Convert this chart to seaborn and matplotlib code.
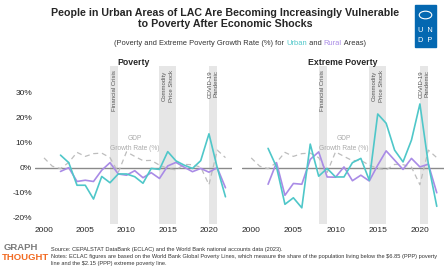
import numpy as np
import pandas as pd
import seaborn as sns
import matplotlib.pyplot as plt
from matplotlib.patches import Rectangle, Circle
import matplotlib.transforms as mtransforms

# data
years = list(range(2000, 2023))
gdp = [3.9, 0.6, -0.4, 2.1, 6.1, 4.5, 5.6, 5.8, 4.0, -1.9, 6.3, 4.5, 2.8, 2.9, 1.0,
       -0.3, -0.9, 1.3, 1.2, 0.2, -6.8, 7.0, 4.0]

pov_years = list(range(2002, 2023))
urban_pov = [5.0, 2.0, -7.0, -7.0, -12.5, -3.5, -6.0, -2.5, -2.5, -3.6, -6.2, -0.3, -0.7,
             6.4, 2.7, 1.0, -0.3, 2.8, 13.5, 0.0, -11.6]
rural_pov = [-1.5, 0.0, -5.5, -5.0, -5.5, -1.0, 2.0, -2.5, -3.0, -1.2, -4.0, -2.0, -4.3,
             0.7, 2.1, 0.2, -1.6, -0.3, -1.8, 0.0, -8.0]
urban_ext = [7.7, 0.3, -14.6, -12.0, -16.0, 9.4, -3.4, -0.3, -3.7, -3.7, 2.0, 3.7, -5.0,
             21.4, 17.7, 7.0, 2.3, 11.0, 25.4, 1.5, -15.4]
rural_ext = [-6.6, 2.0, -11.0, -6.3, -6.6, 3.3, 6.3, -3.7, -3.8, 0.3, -5.2, -3.0, -5.3,
             1.0, 6.7, 3.0, -0.7, 3.7, 0.3, 1.4, -10.0]

shocks = [(2008, 2009, "Financial Crisis"),
          (2014, 2016, "Commodity\nPrice Shock"),
          (2020, 2021, "COVID-19\nPandemic")]

yticks = [-20, -10, 0, 10, 20, 30]
xticks = [2000, 2005, 2010, 2015, 2020]

teal = "#4FC7C9"
purple = "#A98BE6"
gdp_col = "#BDBDBD"
txt = "#333333"

sns.set_style("white")
plt.rcParams["font.family"] = ["Liberation Sans", "DejaVu Sans"]

fig = plt.figure(figsize=(4.48, 2.73), dpi=100)
ax1 = fig.add_axes([0.078, 0.179, 0.44, 0.579])
ax2 = fig.add_axes([0.54, 0.179, 0.45, 0.579])

panels = [(ax1, "Poverty", urban_pov, rural_pov),
          (ax2, "Extreme Poverty", urban_ext, rural_ext)]

for ax, title, urb, rur in panels:
    tr = mtransforms.blended_transform_factory(ax.transData, ax.transAxes)
    for x0, x1, lab in shocks:
        ax.axvspan(x0, x1, color="#E6E6E6", lw=0, zorder=0)
        ax.text((x0 + x1) / 2, 0.975, lab, rotation=90, ha="center", va="top",
                fontsize=4.3, color="#555555", transform=tr, linespacing=1.4)
    ax.axhline(0, color="#8A8A8A", lw=1, zorder=1)
    sns.lineplot(x=years, y=gdp, ax=ax, color=gdp_col, lw=0.9, linestyle=(0, (4, 3)))
    sns.lineplot(x=pov_years, y=rur, ax=ax, color=purple, lw=1.2)
    sns.lineplot(x=pov_years, y=urb, ax=ax, color=teal, lw=1.2)
    ax.text(2011, 9.6, "GDP\nGrowth Rate (%)", ha="center", va="center",
            fontsize=4.8, color="#ABABAB", linespacing=1.6)
    ax.set_xlim(1998.9, 2022.8)
    ax.set_ylim(-22.5, 40.5)
    ax.set_xticks(xticks)
    ax.set_xticklabels([str(t) for t in xticks], fontsize=6)
    ax.set_yticks(yticks)
    ax.set_yticklabels([f"{t}%" for t in yticks], fontsize=6)
    ax.tick_params(length=0, pad=2)
    sns.despine(ax=ax, left=True, bottom=True)
    ax.set_title(title, fontsize=6.3, fontweight="bold", pad=1)
    ax.set_xlabel("")
    ax.set_ylabel("")

ax2.set_yticklabels([])

# titles
fig.text(0.502, 1 - 18.5 / 273, "People in Urban Areas of LAC Are Becoming Increasingly "
         "Vulnerable\nto Poverty After Economic Shocks", ha="center", va="center",
         fontsize=7.7, fontweight="bold", linespacing=1.2)

t = fig.text(0.254, 1 - 47 / 273, "(Poverty and Extreme Poverty Growth Rate (%) for ",
             fontsize=5.4, color=txt, va="bottom")
for piece, col in [("Urban", teal), (" and ", txt), ("Rural", purple), (" Areas)", txt)]:
    t = ax2.annotate(piece, xy=(1, 0), xycoords=t, va="bottom", ha="left",
                     fontsize=5.4, color=col, annotation_clip=False)

# footer
fig.text(0.114, 1 - 249 / 273, "Source: CEPALSTAT DataBank (ECLAC) and the World Bank "
         "national accounts data (2023).", fontsize=4.1, color=txt, va="center")
fig.text(0.114, 1 - 254 / 273, "Notes: ECLAC figures are based on the World Bank Global "
         "Poverty Lines, which measure the share of the population living below the "
         r"\$6.85 (PPP) poverty" "\nline and the " r"\$2.15 (PPP) extreme poverty line.",
         fontsize=4.1, color=txt, va="top", linespacing=1.5)
fig.text(0.007, 1 - 247 / 273, "GRAPH", fontsize=6.8, fontweight="bold",
         color="#7A7A7A", va="center")
fig.text(0.005, 1 - 258 / 273, "THOUGHT", fontsize=6.8, fontweight="bold",
         color="#F26A21", va="center")

# UNDP logo
fig.patches.append(Rectangle((415 / 448, 1 - 47 / 273), 21 / 448, 42 / 273,
                             transform=fig.transFigure, color="#0468B1", zorder=5))
fig.patches.append(Circle((425.5 / 448, 1 - 15 / 273), 0.014, transform=fig.transFigure,
                          facecolor="none", edgecolor="white", lw=0.8, zorder=6))
fig.text(425.5 / 448, 1 - 30 / 273, "U  N", color="white", fontsize=5.3, ha="center",
         va="center", zorder=7)
fig.text(425.5 / 448, 1 - 41 / 273, "D  P", color="white", fontsize=5.3, ha="center",
         va="center", zorder=7)

fig.savefig("out.png", dpi=100)
